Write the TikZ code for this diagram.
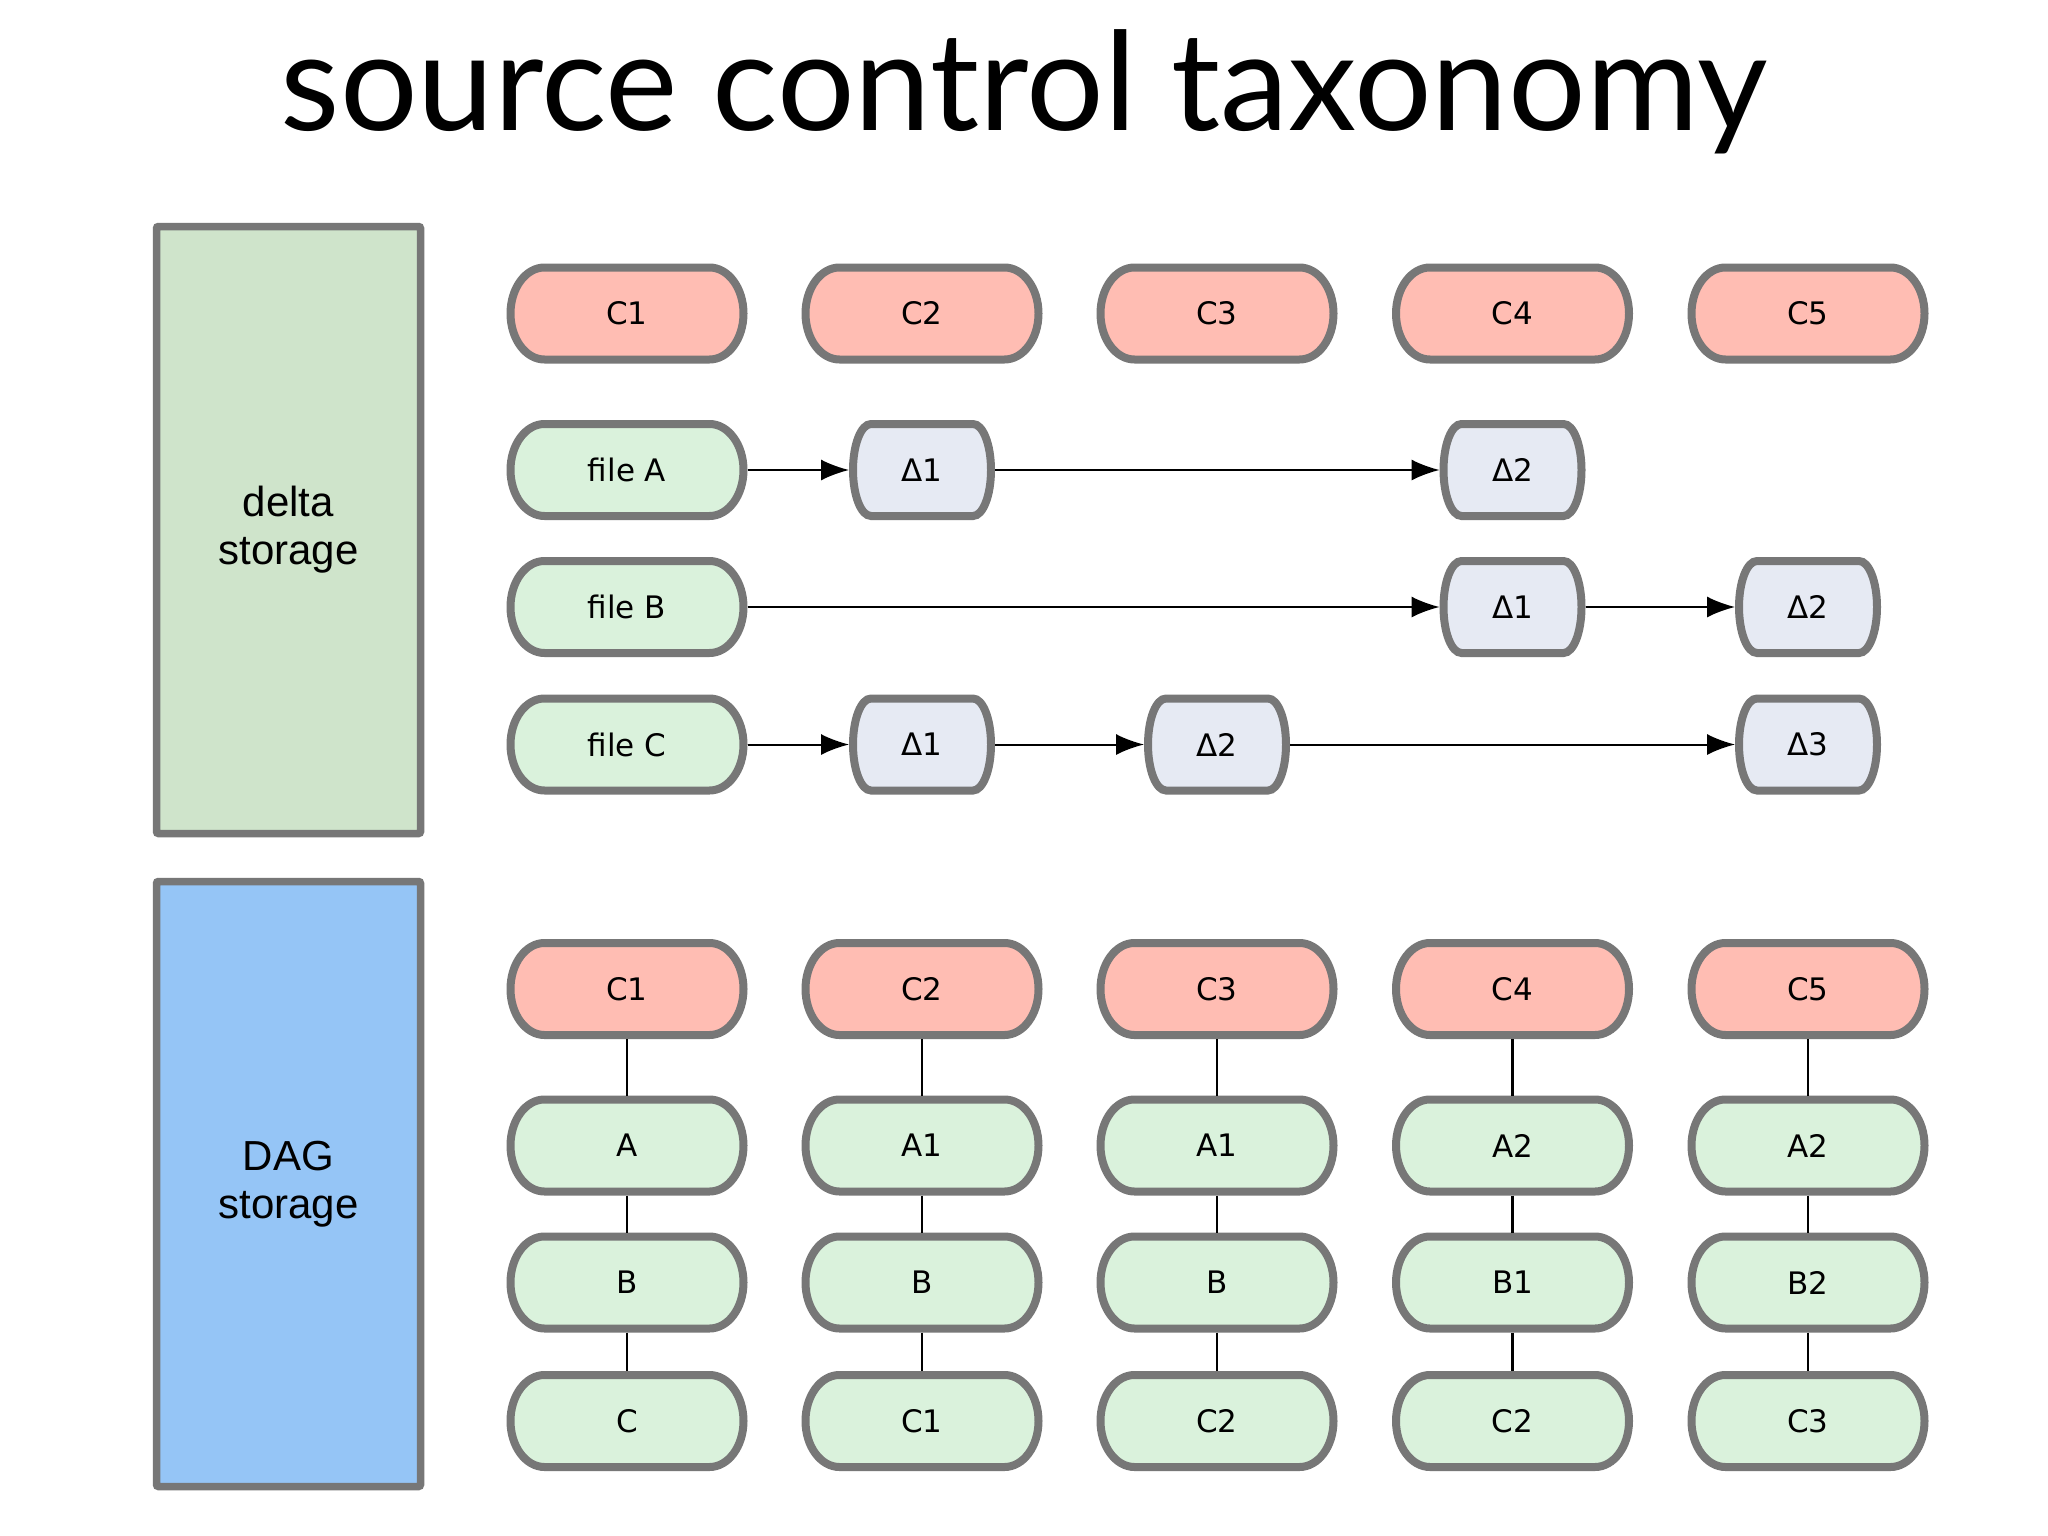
\documentclass[tikz,border=0pt]{standalone}
\usepackage{fontspec}
\newfontfamily\nodefont{DejaVu Sans}
\newfontfamily\boxfont{Liberation Sans}
\newfontfamily\titlefont{Lato}
\usetikzlibrary{arrows.meta}
\definecolor{edgegray}{HTML}{777777}
\definecolor{commitred}{HTML}{FFBDB3}
\definecolor{filegreen}{HTML}{DAF2DC}
\definecolor{deltablue}{HTML}{E6EAF3}
\definecolor{boxgreen}{HTML}{CFE4CB}
\definecolor{boxblue}{HTML}{95C5F6}
\tikzset{
  nodelabel/.style={inner sep=0pt, outer sep=4pt, font=\nodefont\fontsize{31}{36}\selectfont},
  flow/.style={line width=2pt, -{Latex[length=28pt,width=21pt]}},
  link/.style={line width=2.5pt},
  storebox/.style={draw=edgegray, line width=7.5pt, rounded corners=2pt, minimum width=264pt, align=center, font=\boxfont\fontsize{42}{48}\selectfont},
}
% name, cx, cy (down), half width, corner radius, fill, label
\newcommand{\pill}[7]{%
  \filldraw[fill=#6, draw=edgegray, line width=8pt]
    ({#2-#4+#5},{-#3+46}) -- ({#2+#4-#5},{-#3+46})
    arc[start angle=90, end angle=-90, x radius=#5, y radius=46]
    -- ({#2-#4+#5},{-#3-46})
    arc[start angle=270, end angle=90, x radius=#5, y radius=46] -- cycle;
  \node[nodelabel, minimum width={2*#4}, minimum height=92] (#1) at (#2,{-#3}) {#7};
}
\newcommand{\cpill}[5]{\pill{#1}{#2}{#3}{116.5}{34}{#4}{#5}}
\newcommand{\dpill}[4]{\pill{#1}{#2}{#3}{69}{18}{deltablue}{#4}}
\begin{document}
\begin{tikzpicture}[x=1pt,y=1pt]
\fill[white] (0,0) rectangle (2048,-1536);
\useasboundingbox (0,0) rectangle (2048,-1536);

\node[anchor=base, font=\titlefont\fontsize{137}{145}\selectfont] (title) at (1024,-131) {source control taxonomy};

\node[storebox, fill=boxgreen, minimum height=607pt] (delta) at (288.5,-530) {delta\\storage};
\node[storebox, fill=boxblue, minimum height=605pt] (dag) at (288.5,-1184) {DAG\\storage};

% delta storage: commits
\cpill{dc1}{627}{313.5}{commitred}{C1}
\cpill{dc2}{922}{313.5}{commitred}{C2}
\cpill{dc3}{1217}{313.5}{commitred}{C3}
\cpill{dc4}{1512.5}{313.5}{commitred}{C4}
\cpill{dc5}{1808}{313.5}{commitred}{C5}

% files
\cpill{fa}{627}{470}{filegreen}{file A}
\cpill{fb}{627}{607}{filegreen}{file B}
\cpill{fc}{627}{744.5}{filegreen}{file C}

\dpill{fa1}{922}{470}{Δ1}
\dpill{fa2}{1512.5}{470}{Δ2}
\dpill{fb1}{1512.5}{607}{Δ1}
\dpill{fb2}{1808}{607}{Δ2}
\dpill{fc1}{922}{744.5}{Δ1}
\dpill{fc2}{1217}{744.5}{Δ2}
\dpill{fc3}{1808}{744.5}{Δ3}

\draw[flow] (fa) -- (fa1);
\draw[flow] (fa1) -- (fa2);
\draw[flow] (fb) -- (fb1);
\draw[flow] (fb1) -- (fb2);
\draw[flow] (fc) -- (fc1);
\draw[flow] (fc1) -- (fc2);
\draw[flow] (fc2) -- (fc3);

% DAG storage
\cpill{g1c}{627}{989}{commitred}{C1}
\cpill{g1a}{627}{1145.5}{filegreen}{A}
\cpill{g1b}{627}{1282.5}{filegreen}{B}
\cpill{g1d}{627}{1421}{filegreen}{C}

\cpill{g2c}{922}{989}{commitred}{C2}
\cpill{g2a}{922}{1145.5}{filegreen}{A1}
\cpill{g2b}{922}{1282.5}{filegreen}{B}
\cpill{g2d}{922}{1421}{filegreen}{C1}

\cpill{g3c}{1217}{989}{commitred}{C3}
\cpill{g3a}{1217}{1145.5}{filegreen}{A1}
\cpill{g3b}{1217}{1282.5}{filegreen}{B}
\cpill{g3d}{1217}{1421}{filegreen}{C2}

\cpill{g4c}{1512.5}{989}{commitred}{C4}
\cpill{g4a}{1512.5}{1145.5}{filegreen}{A2}
\cpill{g4b}{1512.5}{1282.5}{filegreen}{B1}
\cpill{g4d}{1512.5}{1421}{filegreen}{C2}

\cpill{g5c}{1808}{989}{commitred}{C5}
\cpill{g5a}{1808}{1145.5}{filegreen}{A2}
\cpill{g5b}{1808}{1282.5}{filegreen}{B2}
\cpill{g5d}{1808}{1421}{filegreen}{C3}

\foreach \k in {1,...,5}{
  \draw[link] (g\k c) -- (g\k a);
  \draw[link] (g\k a) -- (g\k b);
  \draw[link] (g\k b) -- (g\k d);
}
\end{tikzpicture}
\end{document}
